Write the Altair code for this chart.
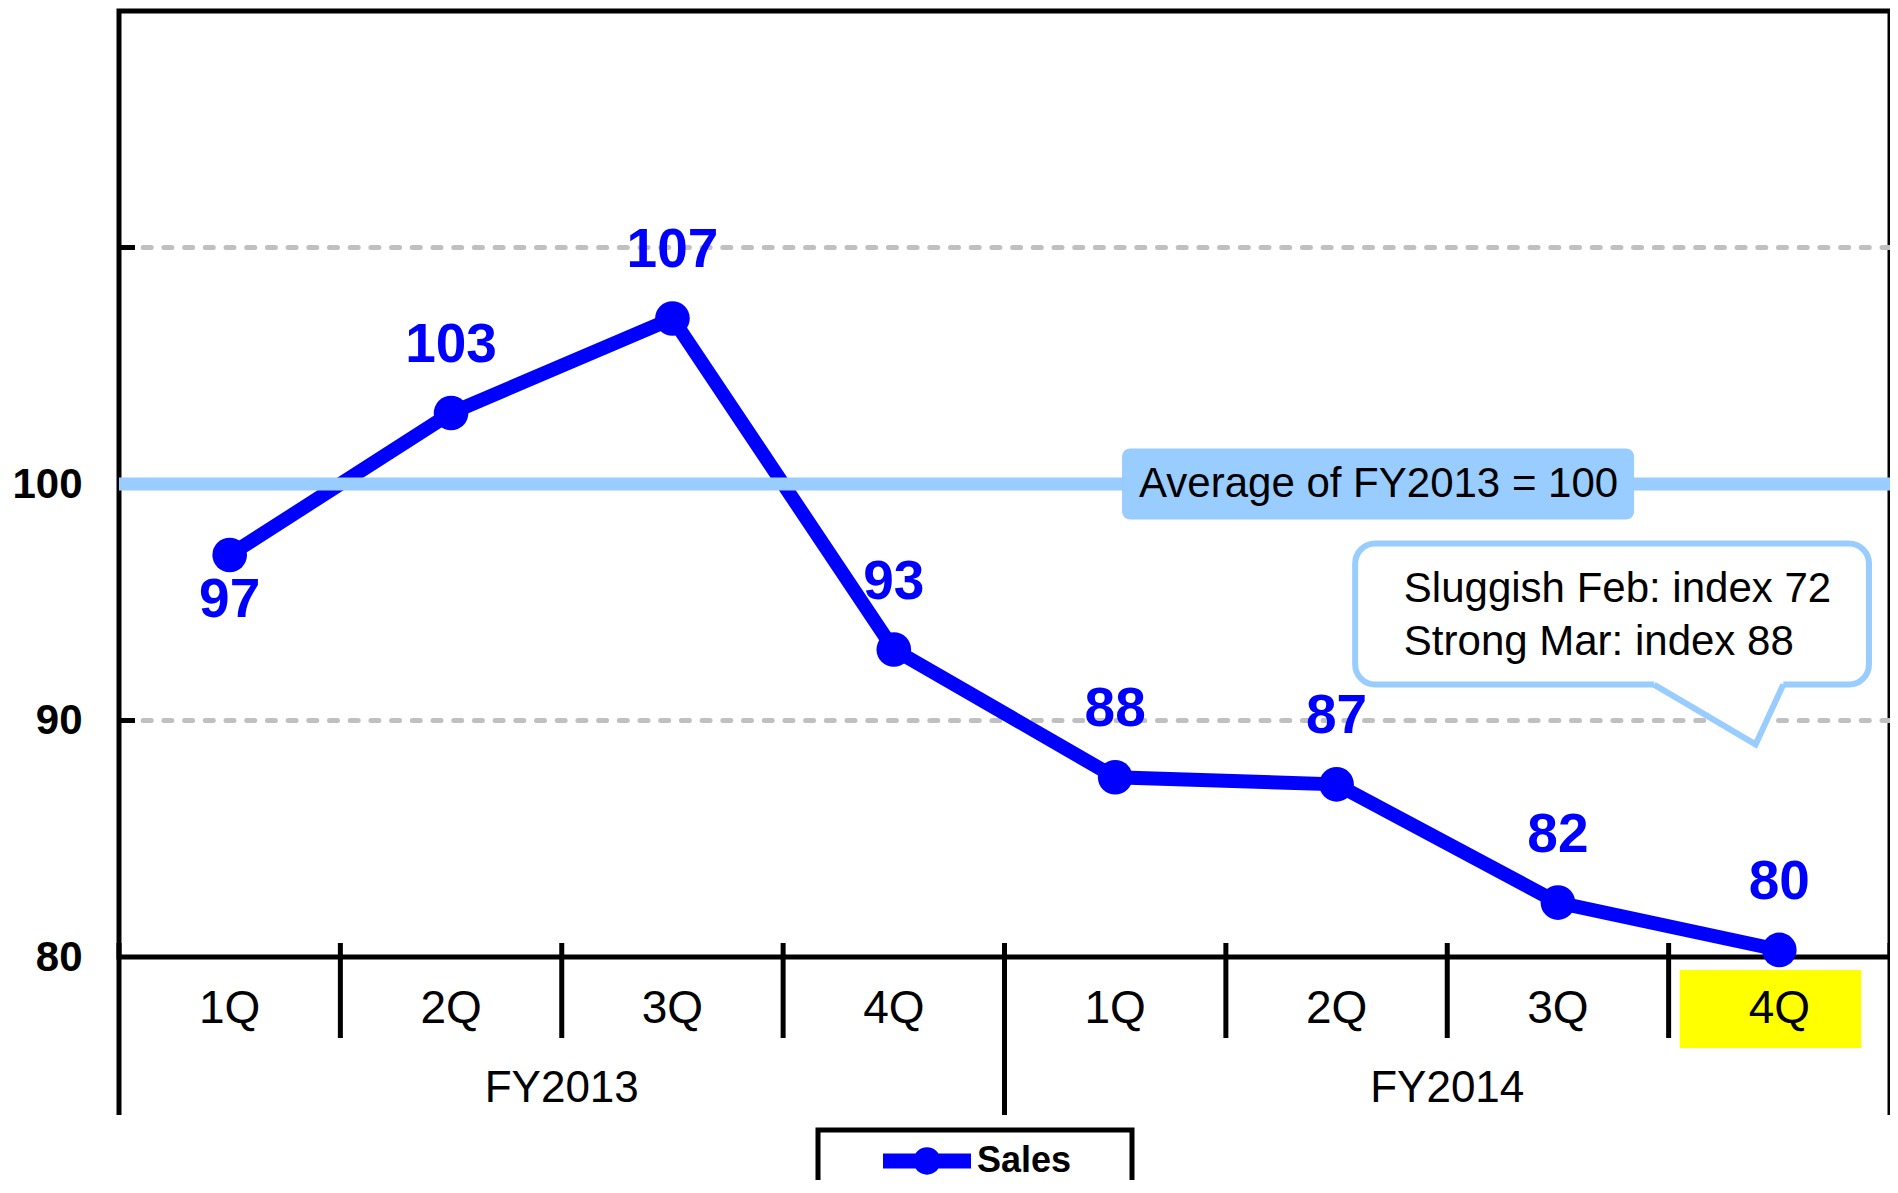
import altair as alt
import pandas as pd

# ---------------- data ----------------
quarters = ["1Q", "2Q", "3Q", "4Q", "1Q", "2Q", "3Q", "4Q"]
fiscal_years = ["FY2013", "FY2013", "FY2013", "FY2013", "FY2014", "FY2014", "FY2014", "FY2014"]
sales_index = [97.0, 103.0, 107.0, 93.0, 87.6, 87.3, 82.3, 80.3]
sales_labels = ["97", "103", "107", "93", "88", "87", "82", "80"]
label_side = ["below", "above", "above", "above", "above", "above", "above", "above"]
year_names = ["FY2013", "FY2014"]
y_label_values = [80, 90, 100]
y_tick_values = [90, 100, 110]
grid_values = [90, 110]
average_value = 100
average_text = "Average of FY2013 = 100"
callout_lines = ["Sluggish Feb: index 72", "Strong Mar: index 88"]
series_name = "Sales"
highlight_quarter = 7  # FY2014 4Q

# ---------------- layout ----------------
W, H = 1771, 946
FONT = "Liberation Sans, Arial, sans-serif"
BLUE = "#0000FF"
LIGHT = "#99CCFF"

n = len(quarters)
main = pd.DataFrame({
    "pos": [i + 0.5 for i in range(n)],
    "quarter": quarters,
    "fy": fiscal_years,
    "value": sales_index,
    "label": sales_labels,
    "side": label_side,
    "series": [series_name] * n,
})
years = pd.DataFrame({"fy": year_names, "pos": [2.0 + 4 * i for i in range(len(year_names))]})
short_sep = pd.DataFrame({"b": [b for b in range(1, n) if b % 4 != 0]})
long_sep = pd.DataFrame({"b": [b for b in range(0, n + 1) if b % 4 == 0]})
grid_df = pd.DataFrame({"v": grid_values})
tick_df = pd.DataFrame({"v": y_tick_values})
avg_df = pd.DataFrame({"v": [average_value], "t": [average_text], "tx": [5.69]})
avg_box = pd.DataFrame({"x": [4.531], "x2": [6.844], "y": [average_value - 1.5], "y2": [average_value + 1.5]})
callout_box = pd.DataFrame({"x": [5.584], "x2": [7.905], "y": [91.52], "y2": [97.48]})
tail = pd.DataFrame({"x": [6.934, 7.393, 7.518], "y": [91.52, 88.99, 91.52], "y2": [91.75, 91.75, 91.75]})
callout_txt = pd.DataFrame({"x": [5.804, 5.804], "y": [95.54, 93.34], "t": callout_lines})
hl = main.iloc[[highlight_quarter]].assign(x1=lambda d: d["pos"] - 0.45, x2=lambda d: d["pos"] + 0.37)

xs = alt.Scale(domain=[0, n], nice=False, zero=False)
ys = alt.Scale(domain=[80, 120], nice=False, zero=False)
y_axis = alt.Axis(
    values=y_label_values, title=None, ticks=False, domain=False, grid=False,
    labelFont=FONT, labelFontSize=42, labelFontWeight="bold", labelColor="black",
    labelPadding=37)


def X(f):
    return alt.X(f, type="quantitative", scale=xs, axis=None)


def Y(f):
    return alt.Y(f, type="quantitative", scale=ys, axis=y_axis)


grid = alt.Chart(grid_df).mark_rule(color="#C0C0C0", strokeWidth=5, strokeDash=[8, 12.7],
                                    strokeCap="round").encode(y=Y("v"))
ticks = alt.Chart(tick_df).mark_rule(color="black", strokeWidth=5).encode(
    y=Y("v"), x=alt.value(0), x2=alt.value(16))

line = alt.Chart(main).mark_line(color=BLUE, strokeWidth=14).encode(x=X("pos"), y=Y("value"))

symbol_path = ("M-1,-0.17 L1,-0.17 L1,0.17 L-1,0.17 Z "
               "M-0.31,0 A0.31,0.31 0 1,1 0.31,0 A0.31,0.31 0 1,1 -0.31,0 Z")
points = alt.Chart(main).mark_point(filled=True, size=1200, opacity=1).encode(
    x=X("pos"), y=Y("value"),
    color=alt.Color("series:N", scale=alt.Scale(range=[BLUE]), legend=alt.Legend(
        orient="none", legendX=764, legendY=1106, title=None, padding=0,
        symbolType=symbol_path, symbolSize=7744, symbolStrokeWidth=0, symbolOpacity=1,
        labelFont=FONT, labelFontSize=36, labelFontWeight="bold", labelColor="black",
        labelOffset=6)),
)

avg_line = alt.Chart(avg_df).mark_rule(color=LIGHT, strokeWidth=13).encode(y=Y("v"))
avg_rect = alt.Chart(avg_box).mark_rect(fill=LIGHT, cornerRadius=8).encode(
    x=X("x"), x2="x2", y=Y("y"), y2="y2")
avg_label = alt.Chart(avg_df).mark_text(
    font=FONT, fontSize=42, color="black", align="center", baseline="middle").encode(
    x=X("tx"), y=Y("v"), text="t:N")

c_rect = alt.Chart(callout_box).mark_rect(fill="white", stroke=LIGHT, strokeWidth=6, cornerRadius=20).encode(
    x=X("x"), x2="x2", y=Y("y"), y2="y2")
c_fill = alt.Chart(tail).mark_area(color="white", opacity=1).encode(x=X("x"), y=Y("y"), y2="y2")
c_edge = alt.Chart(tail).mark_line(color=LIGHT, strokeWidth=6, strokeJoin="miter").encode(x=X("x"), y=Y("y"))
c_text = alt.Chart(callout_txt).mark_text(font=FONT, fontSize=42, color="black", align="left",
                                          baseline="middle").encode(x=X("x"), y=Y("y"), text="t:N")

lab_above = alt.Chart(main).transform_filter("datum.side == 'above'").mark_text(
    font=FONT, fontSize=55, fontWeight="bold", color=BLUE, baseline="middle", dy=-68).encode(
    x=X("pos"), y=Y("value"), text="label:N")
lab_below = alt.Chart(main).transform_filter("datum.side == 'below'").mark_text(
    font=FONT, fontSize=55, fontWeight="bold", color=BLUE, baseline="middle", dy=45).encode(
    x=X("pos"), y=Y("value"), text="label:N")

yellow = alt.Chart(hl).mark_rect(color="#FFFF00").encode(
    x=X("x1"), x2="x2", y=alt.value(H + 13), y2=alt.value(H + 91))
q_labels = alt.Chart(main).mark_text(font=FONT, fontSize=46, color="black", baseline="middle").encode(
    x=X("pos"), y=alt.value(H + 52), text="quarter:N")
s_sep = alt.Chart(short_sep).mark_rule(color="black", strokeWidth=5).encode(
    x=X("b"), y=alt.value(H - 14), y2=alt.value(H + 81))
l_sep = alt.Chart(long_sep).mark_rule(color="black", strokeWidth=5).encode(
    x=X("b"), y=alt.value(H - 14), y2=alt.value(H + 158))
y_labels = alt.Chart(years).mark_text(font=FONT, fontSize=44, color="black", baseline="middle").encode(
    x=X("pos"), y=alt.value(H + 132), text="fy:N")

legend_box = alt.Chart(pd.DataFrame({"series": [series_name]})).mark_rect(
    fill="white", stroke="black", strokeWidth=5).encode(
    x=alt.value(699), x2=alt.value(1013), y=alt.value(1119), y2=alt.value(1260))

chart = alt.layer(
    grid, ticks, line, points, avg_line, avg_rect, avg_label,
    c_rect, c_fill, c_edge, c_text, lab_above, lab_below,
    yellow, q_labels, s_sep, l_sep, y_labels, legend_box,
).properties(
    width=W, height=H,
    autosize=alt.AutoSizeParams(type="none"),
    padding={"left": 111, "top": 3, "right": 0, "bottom": 223},
    background="white",
).configure_view(stroke="black", strokeWidth=5)

chart.save("out.html", embed_options={"renderer": "svg", "actions": False})
